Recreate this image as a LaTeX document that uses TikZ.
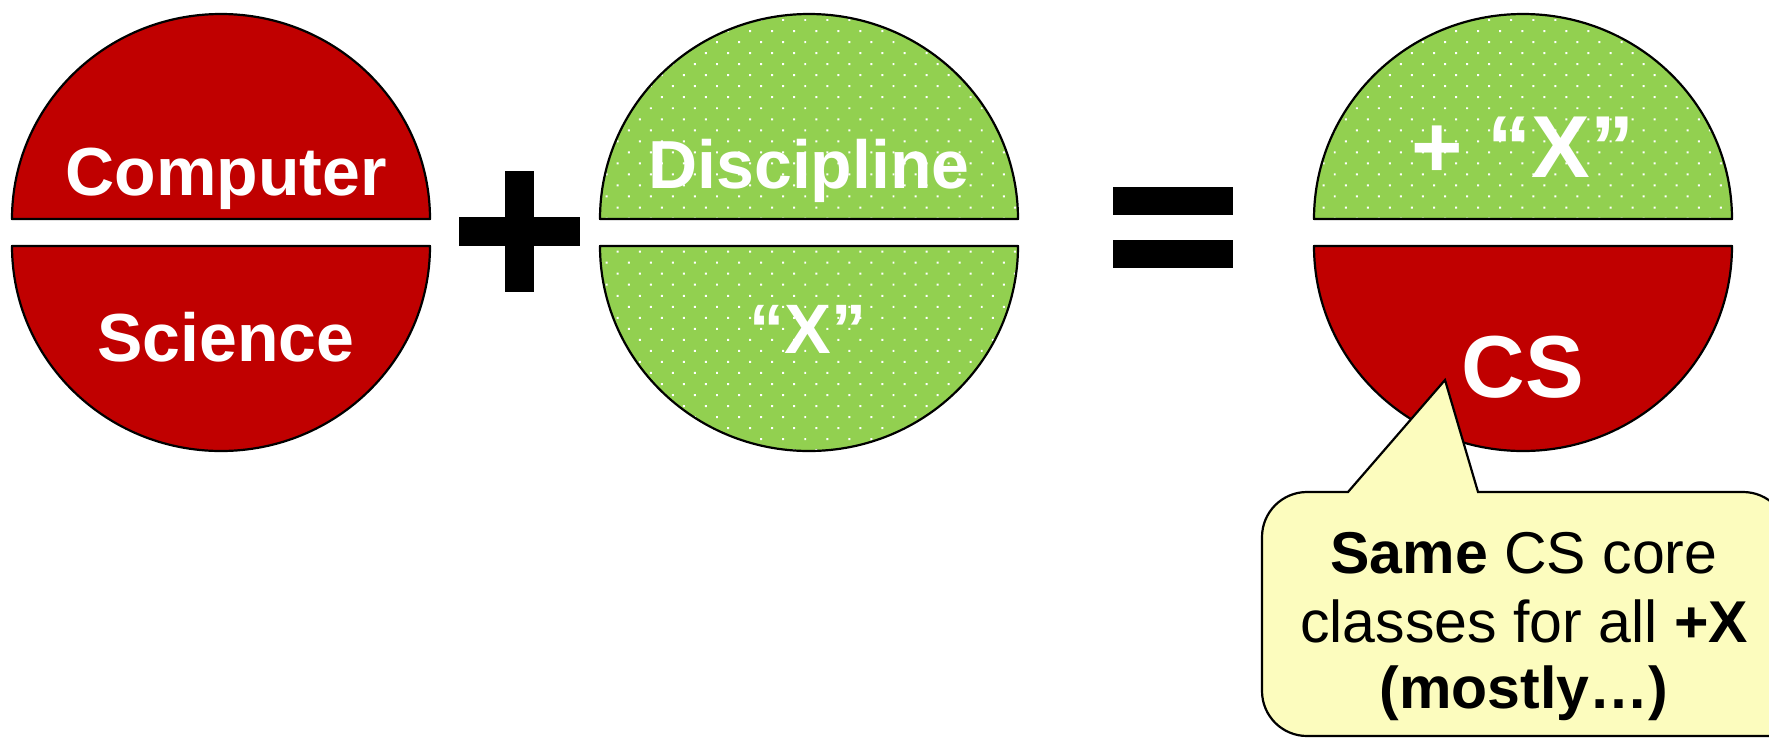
\documentclass[tikz,border=0pt]{standalone}
\usepackage{fontspec}
\setmainfont{Liberation Sans}
\usetikzlibrary{patterns.meta}
\definecolor{xred}{RGB}{192,0,0}
\definecolor{xgreen}{RGB}{146,208,80}
\definecolor{xyellow}{RGB}{252,252,190}
\begin{document}
\begin{tikzpicture}[x=1pt,y=-1pt,
  half/.style={draw=black, line width=2.2pt, line join=round},
  redhalf/.style={half, fill=xred},
  greenhalf/.style={half, preaction={fill=xgreen},
    pattern={Dots[distance=15.6pt,angle=45,radius=1.4pt]}, pattern color=white},
  lbl/.style={text=white, font=\fontsize{68}{68}\selectfont\bfseries, anchor=base, inner sep=0pt},
  biglbl/.style={lbl, font=\fontsize{88}{88}\selectfont\bfseries},
  calltext/.style={text=black, font=\fontsize{59}{59}\selectfont, anchor=base, inner sep=0pt},
  callout/.style={draw=black, line width=2.2pt, fill=xyellow, line join=miter},
  opsign/.style={fill=black}]
\useasboundingbox (0,0) rectangle (1769,737);
\fill[white] (0,0) rectangle (1769,737);

% circle 1: Computer Science
\draw[redhalf] (12,219) arc[start angle=180, end angle=360, x radius=209, y radius=205] -- cycle;
\draw[redhalf] (12,246) arc[start angle=180, end angle=0, x radius=209, y radius=205] -- cycle;
\node[lbl] (comp) at (226,195) {Computer};
\node[lbl] (sci) at (226,361) {Science};

% plus sign
\fill[opsign] (459,217) rectangle (580,246);
\fill[opsign] (505,171) rectangle (534,292);

% circle 2: Discipline X
\draw[greenhalf] (600,219) arc[start angle=180, end angle=360, x radius=209, y radius=205] -- cycle;
\draw[greenhalf] (600,246) arc[start angle=180, end angle=0, x radius=209, y radius=205] -- cycle;
\node[lbl] (disc) at (809,188) {Discipline};
\node[lbl, font=\fontsize{70}{70}\selectfont\bfseries] (xq) at (808,353) {“X”};

% equals sign
\fill[opsign] (1113,187) rectangle (1233,215);
\fill[opsign] (1113,240) rectangle (1233,268);

% circle 3: + X / CS
\draw[greenhalf] (1314,219) arc[start angle=180, end angle=360, x radius=209, y radius=205] -- cycle;
\draw[redhalf] (1314,246) arc[start angle=180, end angle=0, x radius=209, y radius=205] -- cycle;
\node[biglbl] (plusx) at (1523,177) {+ “X”};
\node[biglbl] (cs) at (1523,397) {CS};

% callout
\draw[callout] (1348,492) -- (1445,380) -- (1478,492) -- (1743,492)
  arc[start angle=270, end angle=360, radius=45] -- (1788,736) -- (1307,736)
  arc[start angle=90, end angle=180, radius=45] -- (1262,537)
  arc[start angle=180, end angle=270, radius=45] -- cycle;
\node[calltext] (c1) at (1524,573) {\textbf{Same} CS core};
\node[calltext] (c2) at (1524,642) {classes for all \textbf{+X}};
\node[calltext] (c3) at (1524,708) {\textbf{(mostly…)}};
\end{tikzpicture}
\end{document}
